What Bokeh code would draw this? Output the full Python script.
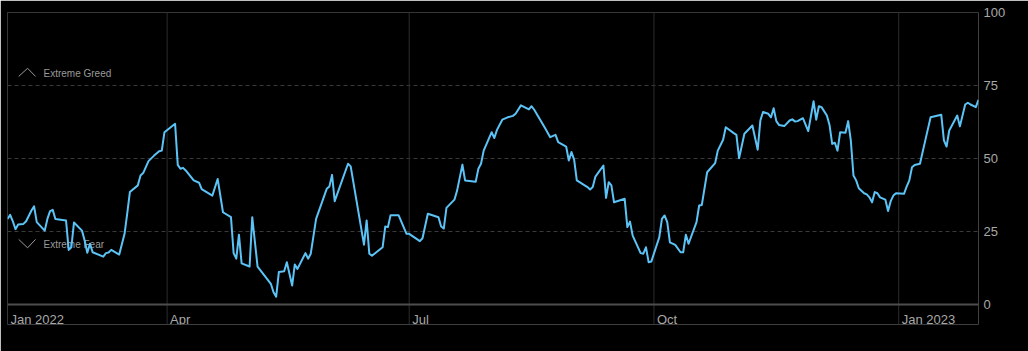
import pandas as pd
from bokeh.plotting import figure
from bokeh.models import Range1d, FixedTicker, Span, Label
from bokeh.embed import file_html
from bokeh.resources import INLINE

# ---------------- data ----------------
start_date = "2022-01-31"
# day offsets from start_date
day_offsets = [
    0, 1, 2, 3, 4, 6, 7, 9, 10, 11,
    14, 15, 16, 17, 18, 22, 23, 24, 25, 28,
    29, 30, 31, 32, 36, 37, 38, 39, 42, 44,
    45, 46, 49, 50, 51, 53, 55, 57, 58, 59,
    63, 64, 65, 66, 67, 70, 72, 73, 77, 79,
    81, 84, 85, 86, 87, 88, 91, 92, 94, 99,
    100, 101, 102, 104, 105, 107, 108, 109, 112, 113,
    114, 116, 120, 121, 122, 123, 128, 129, 134, 135,
    136, 137, 141, 142, 143, 144, 147, 150, 151, 155,
    156, 158, 162, 163, 164, 165, 168, 169, 171, 172,
    176, 177, 178, 179, 182, 183, 184, 186, 188, 190,
    191, 193, 196, 197, 198, 200, 202, 204, 206, 207,
    210, 211, 212, 213, 214, 218, 219, 220, 221, 224,
    225, 226, 227, 228, 232, 233, 234, 235, 238, 239,
    240, 241, 242, 245, 246, 247, 248, 249, 251, 253,
    254, 255, 256, 259, 260, 261, 263, 266, 267, 269,
    270, 273, 274, 275, 277, 280, 282, 283, 284, 286,
    287, 288, 289, 290, 292, 294, 295, 296, 297, 299,
    301, 303, 304, 305, 306, 308, 309, 310, 311, 312,
    313, 315, 316, 317, 318, 319, 320, 322, 323, 324,
    325, 326, 327, 328, 330, 331, 332, 333, 334, 337,
    338, 339, 340, 341, 343, 345, 347, 351, 352, 353,
    354, 357, 358, 360, 361, 362, 364, 365,
]
fear_greed = [
    29.3, 30.7, 28.5, 25.8, 27.4, 27.6, 28.5, 32.2, 33.6, 28.2,
    25.3, 29.3, 32.0, 32.4, 29.3, 28.8, 18.7, 19.6, 28.1, 25.3,
    21.9, 17.7, 20.8, 17.9, 16.4, 17.6, 17.8, 18.7, 17.1, 24.2,
    31.1, 38.5, 40.8, 44.2, 45.0, 49.1, 50.9, 52.5, 52.7, 59.0,
    61.9, 47.8, 46.5, 46.8, 45.9, 42.5, 41.7, 39.5, 37.3, 43.0,
    31.6, 29.9, 17.6, 15.7, 23.9, 14.1, 13.0, 29.9, 13.0, 7.1,
    4.2, 2.7, 11.1, 11.4, 14.5, 6.5, 13.7, 12.2, 17.6, 15.7,
    17.4, 29.3, 39.6, 40.4, 44.4, 35.4, 48.2, 47.3, 20.5, 28.8,
    17.4, 16.7, 19.6, 26.7, 26.5, 30.6, 30.6, 24.2, 24.2, 21.7,
    22.7, 31.1, 29.9, 26.7, 26.0, 33.1, 35.9, 39.0, 47.9, 42.5,
    42.0, 46.5, 48.2, 52.7, 59.0, 57.0, 59.8, 63.3, 64.1, 64.6,
    65.3, 68.2, 66.8, 67.9, 66.7, 63.6, 60.5, 57.3, 58.1, 55.6,
    54.1, 49.3, 52.2, 49.6, 42.5, 40.2, 39.4, 40.2, 43.8, 47.6,
    36.5, 41.9, 40.8, 35.0, 36.2, 26.5, 28.4, 23.6, 17.6, 17.4,
    19.6, 14.5, 14.7, 23.0, 29.3, 30.5, 28.2, 21.3, 20.4, 17.9,
    17.9, 23.9, 20.8, 28.2, 33.9, 34.1, 45.3, 48.4, 52.7, 56.4,
    60.7, 58.7, 58.1, 50.1, 58.5, 61.3, 53.0, 63.0, 65.9, 65.3,
    64.1, 67.2, 62.8, 61.5, 61.1, 63.0, 63.4, 62.7, 62.8, 63.8,
    59.4, 69.6, 63.3, 67.9, 67.6, 64.7, 61.5, 55.0, 55.4, 52.7,
    59.0, 58.8, 62.8, 56.2, 44.2, 42.5, 39.8, 38.1, 37.7, 36.7,
    35.0, 38.5, 38.1, 36.7, 35.9, 32.0, 35.4, 37.3, 38.1, 37.9,
    40.4, 42.5, 47.0, 47.8, 48.2, 56.2, 64.1, 65.0, 56.2, 54.1,
    59.6, 64.7, 61.0, 68.5, 69.1, 68.5, 67.6, 70.1,
]
month_tick_dates = ["2022-01-31", "2022-04-01", "2022-07-01", "2022-10-01", "2023-01-01"]
month_tick_labels = ["Jan 2022", "Apr", "Jul", "Oct", "Jan 2023"]
y_ticks = [0, 25, 50, 75, 100]
zone_labels = ["Extreme Greed", "Extreme Fear"]
zone_levels = [75, 25]

# ---------------- figure ----------------
FONT = "Liberation Sans"
LABEL_COLOR = "#a8a8a8"

start = pd.Timestamp(start_date)
end = start + pd.Timedelta(days=365)
dates = start + pd.to_timedelta(day_offsets, unit="D")

# the frame reaches below 0 so the month lines and labels can sit there
Y_LOW = -20 / 2.92   # 20 px below the zero line

p = figure(width=1028, height=351, x_axis_type="datetime",
           x_axis_location=None, y_axis_location="right",
           x_range=Range1d(start, end), y_range=Range1d(Y_LOW, 100),
           toolbar_location=None, output_backend="svg",
           min_border_left=7, min_border_right=50,
           min_border_top=12, min_border_bottom=27,
           background_fill_color="#000000", border_fill_color="#000000",
           outline_line_color=None)

p.xgrid.visible = False
p.ygrid.ticker = FixedTicker(ticks=[t for t in y_ticks if 0 < t < 100])
p.ygrid.grid_line_color = "#3a3a3a"
p.ygrid.grid_line_dash = "4 3"
p.ygrid.grid_line_width = 1

ax = p.yaxis[0]
ax.ticker = FixedTicker(ticks=y_ticks)
ax.major_tick_in = 0
ax.major_tick_out = 0
ax.minor_tick_in = 0
ax.minor_tick_out = 0
ax.axis_line_color = None
ax.major_label_standoff = 5
ax.major_label_text_font = FONT
ax.major_label_text_font_size = "13px"
ax.major_label_text_color = LABEL_COLOR

# top rule
p.add_layout(Span(location=100, dimension="width", line_color="#303030",
                  line_width=1, level="underlay"))

# vertical month lines and their labels (left aligned right of the line)
for d, lab in zip(month_tick_dates, month_tick_labels):
    ts = pd.Timestamp(d)
    p.add_layout(Span(location=ts.timestamp() * 1000, dimension="height",
                      line_color="#2c2c2c", line_width=1, level="underlay"))
    p.add_layout(Label(x=ts, y=0, x_offset=3, y_offset=-14.5, text=lab,
                       text_align="left", text_baseline="middle",
                       text_font=FONT, text_font_size="13px",
                       text_color=LABEL_COLOR))

# zero rule
p.add_layout(Span(location=0, dimension="width", line_color="#4e4e4e",
                  line_width=2, level="underlay"))

# zone labels
for lab, lvl, off in zip(zone_labels, zone_levels, [12, -13]):
    p.add_layout(Label(x=start, y=lvl, x_offset=36, y_offset=off, text=lab,
                       text_align="left", text_baseline="middle",
                       text_font=FONT, text_font_size="10px",
                       text_color="#9a9a9a", level="underlay"))

# chevron icons next to zone labels
def dpos(days):
    return start + pd.Timedelta(days=days)

chev_x = [dpos(4.2), dpos(7.55), dpos(10.55)]
p.multi_line(xs=[chev_x, chev_x],
             ys=[[78.1, 80.9, 78.1], [22.3, 19.4, 22.3]],
             line_color="#9a9a9a", line_width=1)

# index line
p.line(dates, fear_greed, line_color="#5cc3f6", line_width=2,
       line_join="round")

open("out.html", "w").write(file_html(p, INLINE))
